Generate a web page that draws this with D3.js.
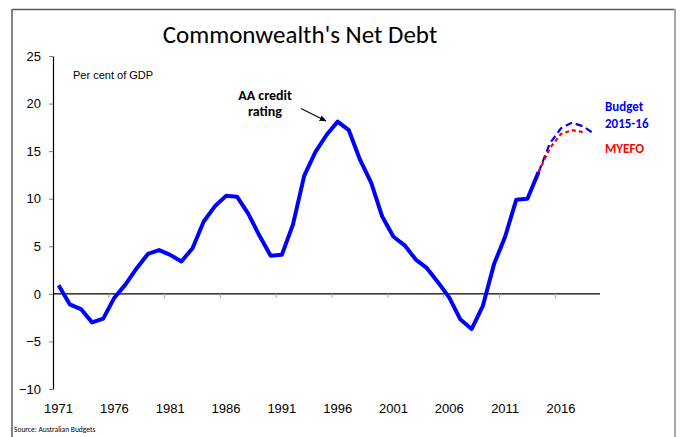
<!DOCTYPE html>
<html>
<head>
<meta charset="utf-8">
<script src="https://cdn.jsdelivr.net/npm/d3@7"></script>
<style>
  html, body { margin: 0; padding: 0; background: #fff; }
  svg { display: block; }
</style>
</head>
<body>
<svg id="chart" width="680" height="437"></svg>
<script>
// Financial years shown on the category axis
const years = [
  "1971","1972","1973","1974","1975","1976","1977","1978","1979","1980",
  "1981","1982","1983","1984","1985","1986","1987","1988","1989","1990",
  "1991","1992","1993","1994","1995","1996","1997","1998","1999","2000",
  "2001","2002","2003","2004","2005","2006","2007","2008","2009","2010",
  "2011","2012","2013","2014","2015","2016","2017","2018","2019"
];

// Actual net debt, per cent of GDP (1971-2014)
const actualYears = years.slice(0, 44);
const netDebt = [
  0.9, -1.1, -1.6, -3.0, -2.6, -0.4, 1.0, 2.7, 4.2, 4.6,
  4.1, 3.4, 4.8, 7.6, 9.2, 10.3, 10.2, 8.4, 6.1, 4.0,
  4.1, 7.3, 12.4, 14.9, 16.7, 18.1, 17.2, 14.1, 11.7, 8.1,
  6.0, 5.1, 3.6, 2.7, 1.2, -0.4, -2.7, -3.7, -1.3, 3.1,
  6.0, 9.9, 10.0, 12.8
];

// Projections
const budgetYears = ["2014","2015","2016","2017","2018","2019"];
const budget = [12.8, 15.8, 17.4, 18.0, 17.6, 16.8];
const myefoYears = ["2014","2015","2016","2017","2018"];
const myefo = [12.8, 15.3, 16.8, 17.2, 17.0];

const yTicks = [-10, -5, 0, 5, 10, 15, 20, 25];
const xLabelYears = ["1971","1976","1981","1986","1991","1996","2001","2006","2011","2016"];

const svg = d3.select("#chart");
const axisFont = "'Liberation Sans', Arial, sans-serif";
const textFont = "Carlito, Calibri, Lato, 'Open Sans', sans-serif";

// Frame
svg.append("line").attr("x1", 12).attr("y1", 9.5).attr("x2", 675).attr("y2", 9.5)
  .attr("stroke", "#595959").attr("stroke-width", 1.5);
svg.append("line").attr("x1", 12).attr("y1", 9).attr("x2", 12).attr("y2", 440)
  .attr("stroke", "#595959").attr("stroke-width", 1.5);
svg.append("line").attr("x1", 675).attr("y1", 9).attr("x2", 675).attr("y2", 440)
  .attr("stroke", "#a6a6a6").attr("stroke-width", 2);

// Scales
const x = d3.scaleBand().domain(years).range([53, 600]).padding(0);
const y = d3.scaleLinear().domain([-10, 25]).range([389, 56]);
const cx = d => x(d) + x.bandwidth() / 2;

// Title
svg.append("text")
  .attr("x", 300).attr("y", 43)
  .attr("text-anchor", "middle")
  .attr("font-family", textFont)
  .attr("font-size", 25)
  .attr("fill", "#000")
  .text("Commonwealth's Net Debt");

// Y axis
const yAxis = d3.axisLeft(y).tickValues(yTicks).tickSize(4).tickSizeOuter(0).tickPadding(8);
const gy = svg.append("g").attr("transform", "translate(53,0)").call(yAxis);
gy.attr("font-family", axisFont);
gy.select(".domain").attr("stroke", "#000").attr("stroke-width", 1.2);
gy.selectAll(".tick line").attr("stroke", "#7f7f7f");
gy.selectAll(".tick text")
  .attr("font-family", axisFont).attr("font-size", 13).attr("fill", "#000");

// X axis along zero: ticks between categories every five years
const gx = svg.append("g").attr("transform", `translate(0,${y(0)})`);
gx.append("line").attr("x1", 53).attr("x2", 600).attr("y1", 0).attr("y2", 0)
  .attr("stroke", "#000").attr("stroke-width", 1.3);
gx.selectAll("line.tick")
  .data(xLabelYears.slice(1))
  .join("line")
  .attr("class", "tick")
  .attr("x1", d => x(d)).attr("x2", d => x(d))
  .attr("y1", 0).attr("y2", 4)
  .attr("stroke", "#a6a6a6").attr("stroke-width", 1);

// Year labels along the bottom
svg.append("g").selectAll("text")
  .data(xLabelYears)
  .join("text")
  .attr("x", d => cx(d)).attr("y", 413)
  .attr("text-anchor", "middle")
  .attr("font-family", axisFont).attr("font-size", 13)
  .attr("fill", "#000")
  .text(d => d);

// Unit label
svg.append("text")
  .attr("x", 73).attr("y", 79)
  .attr("font-family", axisFont).attr("font-size", 11)
  .attr("fill", "#000")
  .text("Per cent of GDP");

// Lines
const line = d3.line().x(d => cx(d[0])).y(d => y(d[1]));

svg.append("path")
  .datum(budgetYears.map((yr, i) => [yr, budget[i]]))
  .attr("d", line)
  .attr("fill", "none").attr("stroke", "#0000ff")
  .attr("stroke-width", 2.2).attr("stroke-dasharray", "7,4");

svg.append("path")
  .datum(myefoYears.map((yr, i) => [yr, myefo[i]]))
  .attr("d", line)
  .attr("fill", "none").attr("stroke", "#ff0000")
  .attr("stroke-width", 2.2).attr("stroke-dasharray", "4,3");

svg.append("path")
  .datum(actualYears.map((yr, i) => [yr, netDebt[i]]))
  .attr("d", line)
  .attr("fill", "none").attr("stroke", "#0000ff")
  .attr("stroke-width", 4).attr("stroke-linejoin", "round");

// Annotation: AA credit rating
const note = svg.append("text")
  .attr("text-anchor", "middle")
  .attr("font-family", textFont).attr("font-size", 14)
  .attr("font-weight", "bold").attr("fill", "#000");
note.append("tspan").attr("x", 265).attr("y", 100).text("AA credit");
note.append("tspan").attr("x", 265).attr("y", 116).text("rating");

svg.append("defs").append("marker")
  .attr("id", "arrowhead")
  .attr("viewBox", "0 0 10 10")
  .attr("refX", 9).attr("refY", 5)
  .attr("markerWidth", 6).attr("markerHeight", 6)
  .attr("orient", "auto")
  .append("path").attr("d", "M0,1 L10,5 L0,9 Z").attr("fill", "#000");

svg.append("line")
  .attr("x1", 301).attr("y1", 108.5)
  .attr("x2", 326).attr("y2", 121)
  .attr("stroke", "#000").attr("stroke-width", 1.2)
  .attr("marker-end", "url(#arrowhead)");

// Series labels
const bl = svg.append("text")
  .attr("font-family", textFont).attr("font-size", 13)
  .attr("font-weight", "bold").attr("fill", "#0000ff");
bl.append("tspan").attr("x", 605).attr("y", 111).text("Budget");
bl.append("tspan").attr("x", 605).attr("y", 128).text("2015-16");

svg.append("text")
  .attr("x", 605).attr("y", 153)
  .attr("font-family", textFont).attr("font-size", 13)
  .attr("font-weight", "bold").attr("fill", "#ff0000")
  .text("MYEFO");

// Source
svg.append("text")
  .attr("x", 14).attr("y", 432)
  .attr("font-family", textFont).attr("font-size", 7.5)
  .attr("fill", "#000")
  .text("Source: Australian Budgets");
</script>
</body>
</html>
